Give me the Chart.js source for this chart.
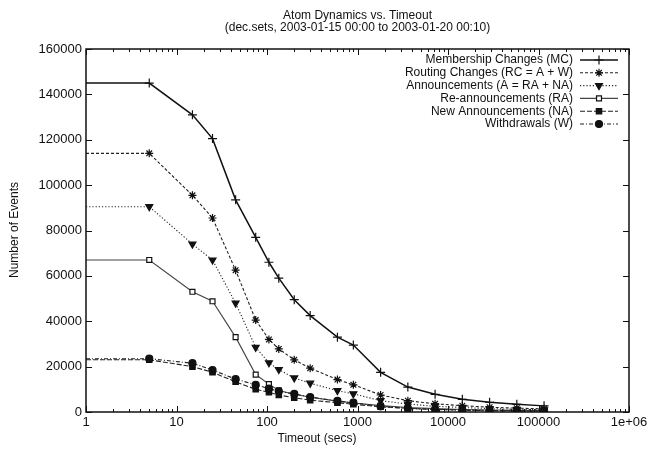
<!DOCTYPE html>
<html><head><meta charset="utf-8">
<script src="https://cdn.jsdelivr.net/npm/chart.js@4/dist/chart.umd.min.js"></script>
<style>html,body{margin:0;padding:0;background:#fff}#wrap{width:655px;height:449px;position:relative}</style>
</head><body><div id="wrap"><canvas id="c" width="655" height="449"></canvas></div>
<script>
const titleLines = ['Atom Dynamics vs. Timeout', '(dec.sets, 2003-01-15 00:00 to 2003-01-20 00:10)'];
const xAxisTitle = 'Timeout (secs)';
const yAxisTitle = 'Number of Events';

const timeouts = [1, 5, 15, 25, 45, 75, 105, 135, 200, 300, 600, 900, 1800, 3600, 7200, 14400, 28800, 57600, 115200];
const seriesNames = [
  'Membership Changes (MC)',
  'Routing Changes (RC = A + W)',
  'Announcements (A = RA + NA)',
  'Re-announcements (RA)',
  'New Announcements (NA)',
  'Withdrawals (W)'
];
const membership    = [145000, 145000, 131000, 120500, 93500, 77000, 66000, 59000, 49500, 42500, 33000, 29500, 17500, 11000, 7800, 5600, 4300, 3400, 2700];
const routing       = [114000, 114000, 95500, 85500, 62500, 40500, 32000, 27800, 23000, 19300, 14300, 12000, 7500, 5000, 3600, 2800, 2100, 1700, 1400];
const announcements = [90500, 90500, 74000, 67000, 48000, 28500, 21700, 18700, 15000, 12700, 9400, 8000, 5000, 3500, 2500, 2000, 1500, 1200, 1000];
const reannounce    = [67000, 67000, 53000, 48800, 33000, 16500, 12300, 9500, 7800, 6500, 4800, 4000, 2800, 2000, 1500, 1100, 900, 700, 600];
const newAnnounce   = [23000, 23000, 20000, 17500, 13300, 10000, 8700, 7500, 6300, 5200, 4100, 3400, 2300, 1600, 1100, 900, 700, 500, 400];
const withdrawals   = [23500, 23500, 21500, 18500, 14500, 12000, 10300, 9100, 8000, 6600, 4900, 4100, 2500, 1600, 1200, 800, 600, 500, 400];

const yTickValues = [0, 20000, 40000, 60000, 80000, 100000, 120000, 140000, 160000];
const xTickValues = [1, 10, 100, 1000, 10000, 100000, 1000000];
const xTickLabels = ['1', '10', '100', '1000', '10000', '100000', '1e+06'];

const FONT = '"Liberation Sans", Arial, Helvetica, sans-serif';
const INK = '#111';

const styles = [
  {color: '#111', width: 1.5, dash: [], point: 'cross', rot: 0, r: 4.5, fill: '#111'},
  {color: '#222', width: 1.1, dash: [3, 2], point: 'star', rot: 0, r: 4, fill: '#222'},
  {color: '#222', width: 1.1, dash: [1.2, 2], point: 'triangle', rot: 180, r: 4, fill: '#111'},
  {color: '#444', width: 1.1, dash: [], point: 'rect', rot: 0, r: 3.5, fill: '#fff'},
  {color: '#222', width: 1.1, dash: [5, 2], point: 'rect', rot: 0, r: 3.8, fill: '#111'},
  {color: '#222', width: 1.1, dash: [4, 2, 1, 2], point: 'circle', rot: 0, r: 3.5, fill: '#111'}
];
const seriesValues = [membership, routing, announcements, reannounce, newAnnounce, withdrawals];

const datasets = seriesValues.map((vals, k) => {
  const s = styles[k];
  return {
    label: seriesNames[k],
    data: timeouts.map((t, i) => ({x: t, y: vals[i]})),
    borderColor: s.color,
    borderWidth: s.width,
    borderDash: s.dash,
    pointStyle: s.point,
    pointRotation: s.rot,
    pointRadius: ctx => ctx.dataIndex === 0 ? 0 : s.r,
    pointBorderColor: '#111',
    pointBackgroundColor: s.fill,
    pointBorderWidth: 1.2,
    fill: false,
    tension: 0,
    order: 10 - k
  };
});

const decor = {
  id: 'decor',
  afterDraw(chart) {
    const ctx = chart.ctx;
    const a = chart.chartArea;
    const xs = chart.scales.x, ys = chart.scales.y;
    ctx.save();
    ctx.strokeStyle = INK;
    ctx.lineWidth = 1.5;
    ctx.setLineDash([]);
    ctx.strokeRect(a.left, a.top, a.right - a.left, a.bottom - a.top);
    ctx.lineWidth = 1;
    ctx.beginPath();
    for (let d = 0; d < xTickValues.length; d++) {
      const v = xTickValues[d];
      const px = Math.round(xs.getPixelForValue(v)) + 0.5;
      ctx.moveTo(px, a.bottom); ctx.lineTo(px, a.bottom - 6);
      ctx.moveTo(px, a.top); ctx.lineTo(px, a.top + 6);
      if (d < xTickValues.length - 1) {
        for (let k = 2; k <= 9; k++) {
          const mx = Math.round(xs.getPixelForValue(v * k)) + 0.5;
          ctx.moveTo(mx, a.bottom); ctx.lineTo(mx, a.bottom - 3);
          ctx.moveTo(mx, a.top); ctx.lineTo(mx, a.top + 3);
        }
      }
    }
    yTickValues.forEach(v => {
      const py = Math.round(ys.getPixelForValue(v)) + 0.5;
      ctx.moveTo(a.left, py); ctx.lineTo(a.left + 6, py);
      ctx.moveTo(a.right, py); ctx.lineTo(a.right - 6, py);
    });
    ctx.stroke();
    ctx.fillStyle = INK;
    ctx.font = '12px ' + FONT;
    ctx.textAlign = 'center';
    ctx.textBaseline = 'middle';
    const cx = (a.left + a.right) / 2;
    ctx.fillText(titleLines[0], cx, 16);
    ctx.fillText(titleLines[1], cx, 28);
    ctx.fillText(xAxisTitle, 317, 439);
    ctx.save();
    ctx.translate(15, 230);
    ctx.rotate(-Math.PI / 2);
    ctx.fillText(yAxisTitle, 0, 0);
    ctx.restore();
    const textRight = 573, lx0 = 580, lx1 = 618, mx = 599;
    chart.data.datasets.forEach((ds, k) => {
      const s = styles[k];
      const y = 60 + k * 12.8;
      ctx.fillStyle = INK;
      ctx.textAlign = 'right';
      ctx.fillText(ds.label, textRight, y);
      ctx.strokeStyle = s.color;
      ctx.lineWidth = s.width;
      ctx.setLineDash(s.dash);
      ctx.beginPath();
      ctx.moveTo(lx0, y); ctx.lineTo(lx1, y);
      ctx.stroke();
      ctx.setLineDash([]);
      ctx.strokeStyle = '#111';
      ctx.fillStyle = s.fill;
      ctx.lineWidth = 1.2;
      Chart.helpers.drawPoint(ctx, {pointStyle: s.point, rotation: s.rot, radius: s.r, borderWidth: 1.2}, mx, y);
    });
    ctx.restore();
  }
};

new Chart(document.getElementById('c'), {
  type: 'line',
  data: {datasets},
  options: {
    responsive: false,
    animation: false,
    events: [],
    layout: {padding: {top: 49, right: 26, left: 0, bottom: 0}},
    plugins: {legend: {display: false}, title: {display: false}, tooltip: {enabled: false}},
    scales: {
      x: {
        type: 'logarithmic',
        min: 1, max: 1000000,
        grid: {display: false, drawTicks: false},
        border: {display: false},
        afterBuildTicks: scale => { scale.ticks = xTickValues.map(v => ({value: v})); },
        afterFit: scale => { scale.height = 37; },
        ticks: {
          autoSkip: false, maxRotation: 0, padding: 3, color: INK,
          font: {family: FONT, size: 13},
          callback: (v) => { const i = xTickValues.indexOf(v); return i >= 0 ? xTickLabels[i] : ''; }
        }
      },
      y: {
        type: 'linear',
        min: 0, max: 160000,
        grid: {display: false, drawTicks: false},
        border: {display: false},
        afterBuildTicks: scale => { scale.ticks = yTickValues.map(v => ({value: v})); },
        afterFit: scale => { scale.width = 86; },
        ticks: {
          padding: 4, color: INK,
          font: {family: FONT, size: 13},
          callback: v => String(v)
        }
      }
    }
  },
  plugins: [decor]
});
</script>
</body></html>
